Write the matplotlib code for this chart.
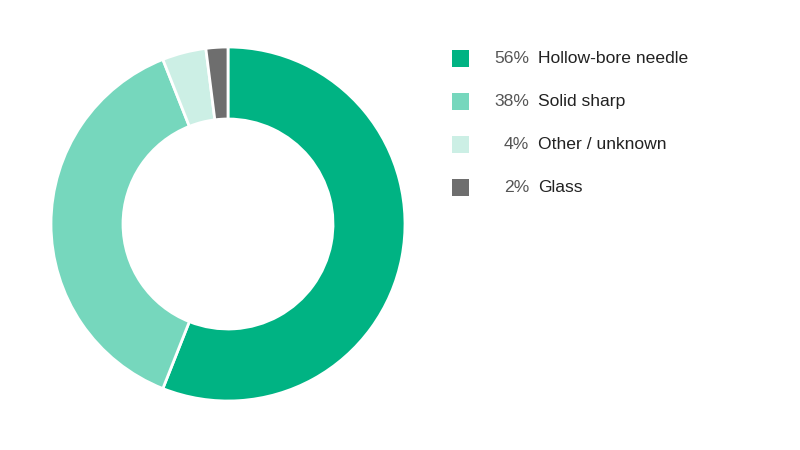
import matplotlib
matplotlib.use("Agg")
import matplotlib.pyplot as plt
from matplotlib.patches import Rectangle

categories = ["Hollow-bore needle", "Solid sharp", "Other / unknown", "Glass"]
values = [56, 38, 4, 2]
pct_labels = ["56%", "38%", "4%", "2%"]
colors = ["#00B383", "#76D7BD", "#CCEFE5", "#6E6E6E"]

plt.rcParams['font.family'] = ['Liberation Sans', 'DejaVu Sans']

W, H = 800, 450
fig = plt.figure(figsize=(8, 4.5), dpi=100)
fig.patch.set_facecolor("white")

cx, cy, R, r_in = 228, 224, 177, 105
ax = fig.add_axes([(cx - R) / W, (H - cy - R) / H, 2 * R / W, 2 * R / H])
ax.pie(values, colors=colors, startangle=90, counterclock=False, radius=1,
       wedgeprops=dict(width=1 - r_in / R, edgecolor="white", linewidth=2))
ax.set_xlim(-1, 1)
ax.set_ylim(-1, 1)
ax.set_aspect("equal")
ax.axis("off")

y0, dy = 58.5, 43
for i, (cat, p, c) in enumerate(zip(categories, pct_labels, colors)):
    y = y0 + i * dy
    fig.patches.append(Rectangle((452 / W, (H - y - 8.5) / H), 17 / W, 17 / H,
                                 transform=fig.transFigure, facecolor=c, edgecolor="none"))
    fig.text(529 / W, (H - y) / H, p, ha="right", va="center", fontsize=12.6, color="#555555")
    fig.text(538 / W, (H - y) / H, cat, ha="left", va="center", fontsize=12.6, color="#222222")

fig.savefig("out.png", dpi=100, facecolor="white")
